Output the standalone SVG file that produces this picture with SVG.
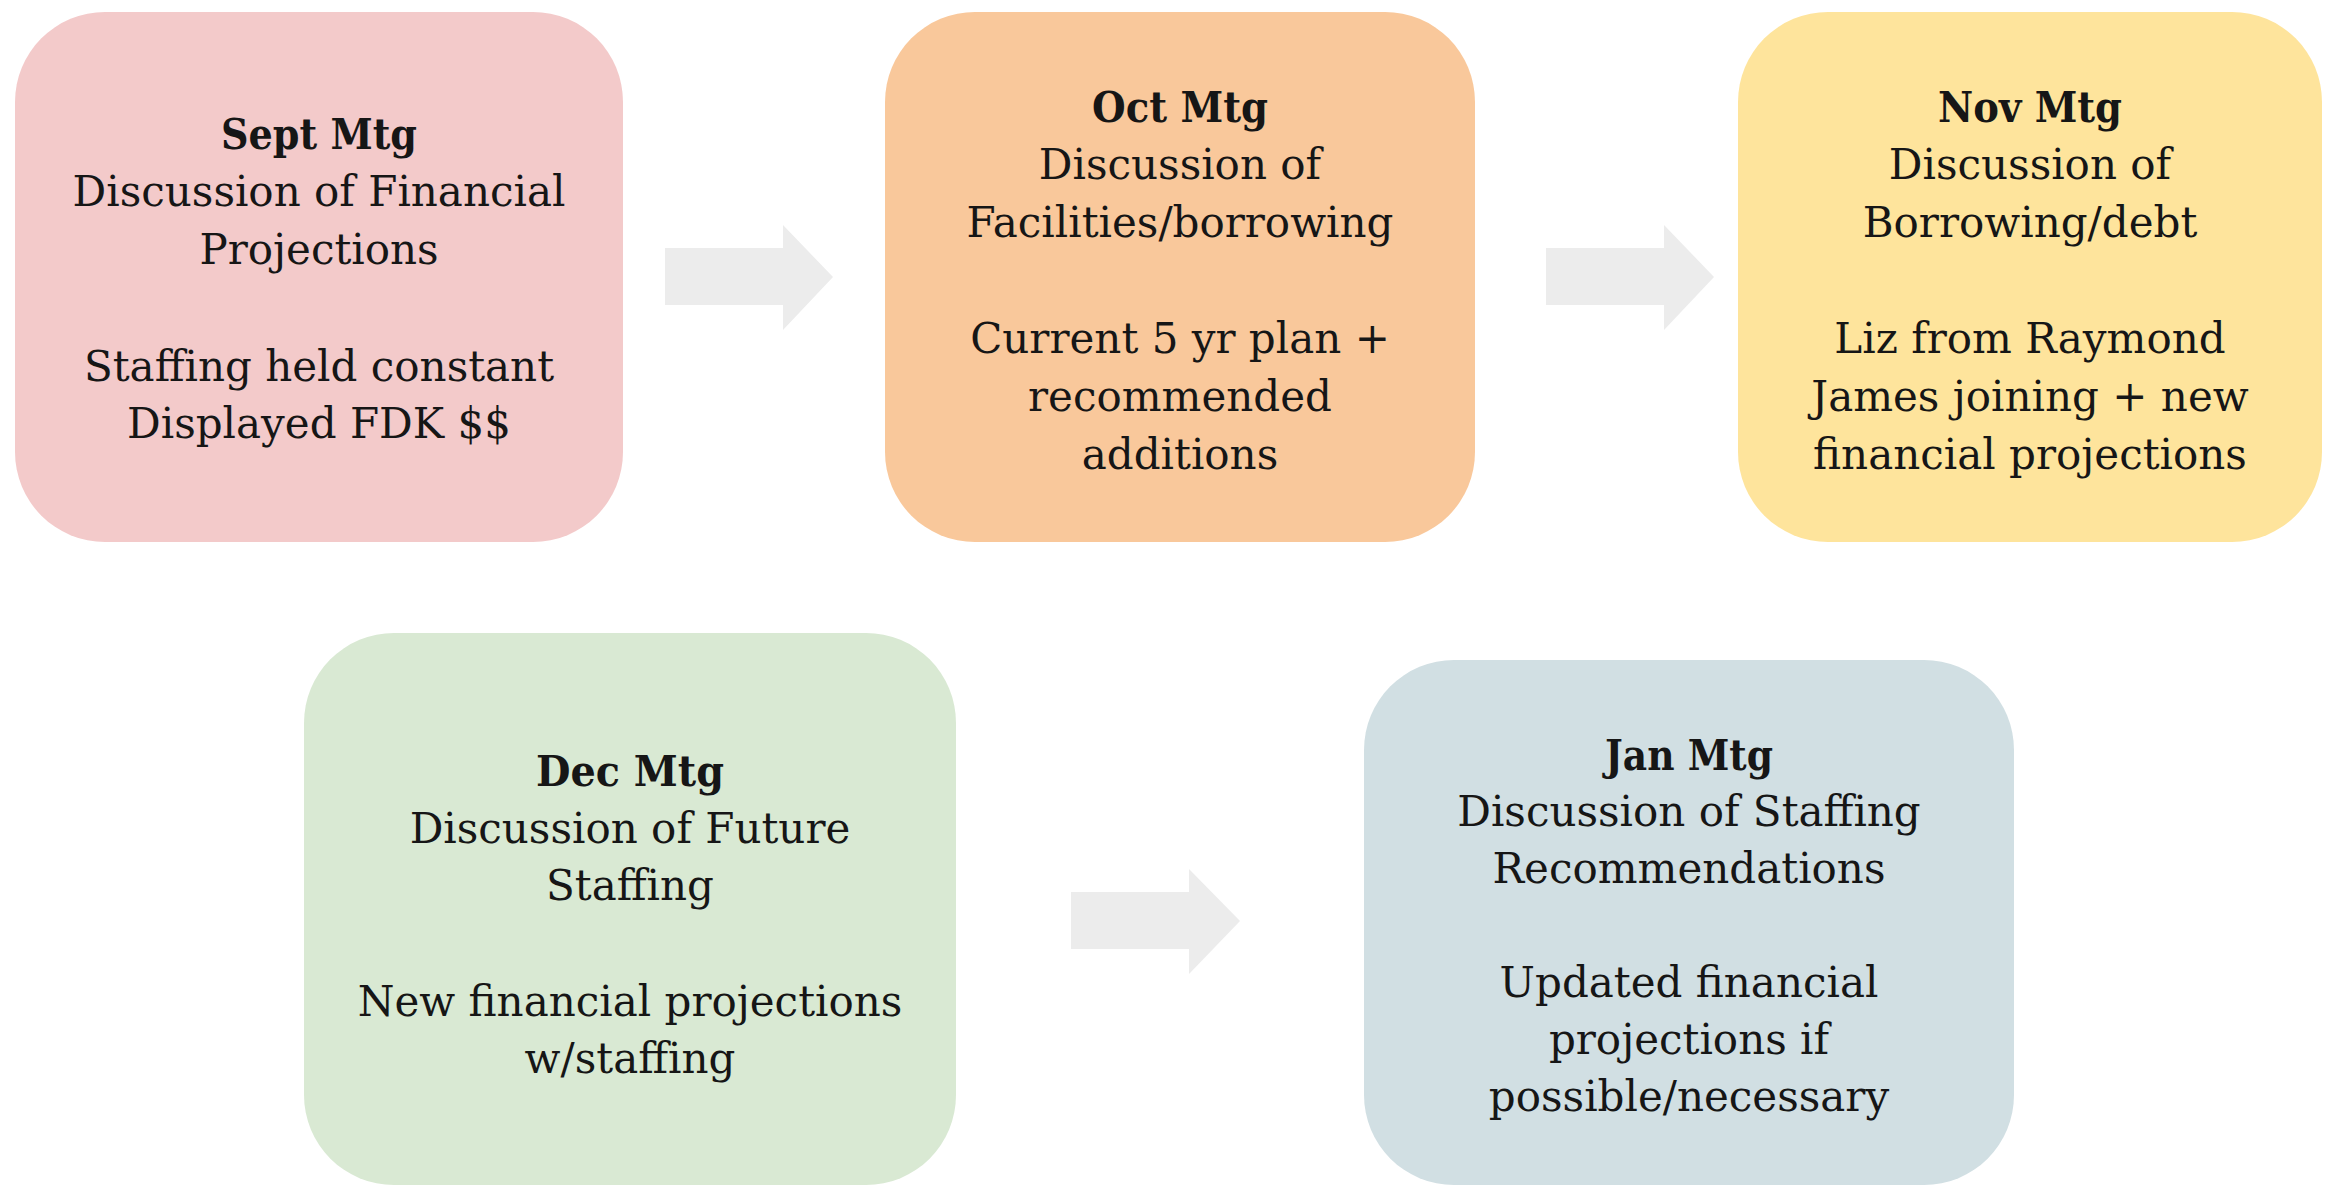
<svg xmlns="http://www.w3.org/2000/svg" width="2325" height="1190" viewBox="0 0 2325 1190">
<style>
.t{font-family:"DejaVu Serif","Liberation Serif",serif;font-size:42px;fill:#161616;text-anchor:middle}
.b{font-weight:bold}
.arr{fill:#ececec}
</style>
<rect width="2325" height="1190" fill="#ffffff"/>
<g id="connectors">
<path class="arr" d="M665,248 H783 V225 L833,277 L783,330 V305 H665 Z"/>
<path class="arr" d="M1546,248 H1664 V225 L1714,277 L1664,330 V305 H1546 Z"/>
<path class="arr" d="M1071,892 H1189 V869 L1240,921 L1189,974 V949 H1071 Z"/>
</g>
<g id="sept">
<rect x="15" y="12" width="608" height="530" rx="90" fill="#f3caca"/>
<text class="t b" x="319" y="149" textLength="196" lengthAdjust="spacingAndGlyphs">Sept Mtg</text>
<text class="t" x="319" y="206">Discussion of Financial</text>
<text class="t" x="319" y="264">Projections</text>
<text class="t" x="319" y="381">Staffing held constant</text>
<text class="t" x="319" y="438">Displayed FDK $$</text>
</g>
<g id="oct">
<rect x="885" y="12" width="590" height="530" rx="90" fill="#f9c89b"/>
<text class="t b" x="1180" y="122" textLength="176" lengthAdjust="spacingAndGlyphs">Oct Mtg</text>
<text class="t" x="1180" y="179">Discussion of</text>
<text class="t" x="1180" y="237">Facilities/borrowing</text>
<text class="t" x="1180" y="353">Current 5 yr plan +</text>
<text class="t" x="1180" y="411">recommended</text>
<text class="t" x="1180" y="469">additions</text>
</g>
<g id="nov">
<rect x="1738" y="12" width="584" height="530" rx="90" fill="#fee49c"/>
<text class="t b" x="2030" y="122" textLength="184" lengthAdjust="spacingAndGlyphs">Nov Mtg</text>
<text class="t" x="2030" y="179">Discussion of</text>
<text class="t" x="2030" y="237">Borrowing/debt</text>
<text class="t" x="2030" y="353">Liz from Raymond</text>
<text class="t" x="2030" y="411">James joining + new</text>
<text class="t" x="2030" y="469">financial projections</text>
</g>
<g id="dec">
<rect x="304" y="633" width="652" height="552" rx="90" fill="#d9e9d3"/>
<text class="t b" x="630" y="786" textLength="188" lengthAdjust="spacingAndGlyphs">Dec Mtg</text>
<text class="t" x="630" y="843">Discussion of Future</text>
<text class="t" x="630" y="900">Staffing</text>
<text class="t" x="630" y="1016">New financial projections</text>
<text class="t" x="630" y="1073">w/staffing</text>
</g>
<g id="jan">
<rect x="1364" y="660" width="650" height="525" rx="90" fill="#d1dfe3"/>
<text class="t b" x="1689" y="770" textLength="168" lengthAdjust="spacingAndGlyphs">Jan Mtg</text>
<text class="t" x="1689" y="826">Discussion of Staffing</text>
<text class="t" x="1689" y="883">Recommendations</text>
<text class="t" x="1689" y="997">Updated financial</text>
<text class="t" x="1689" y="1054">projections if</text>
<text class="t" x="1689" y="1111">possible/necessary</text>
</g>
</svg>
